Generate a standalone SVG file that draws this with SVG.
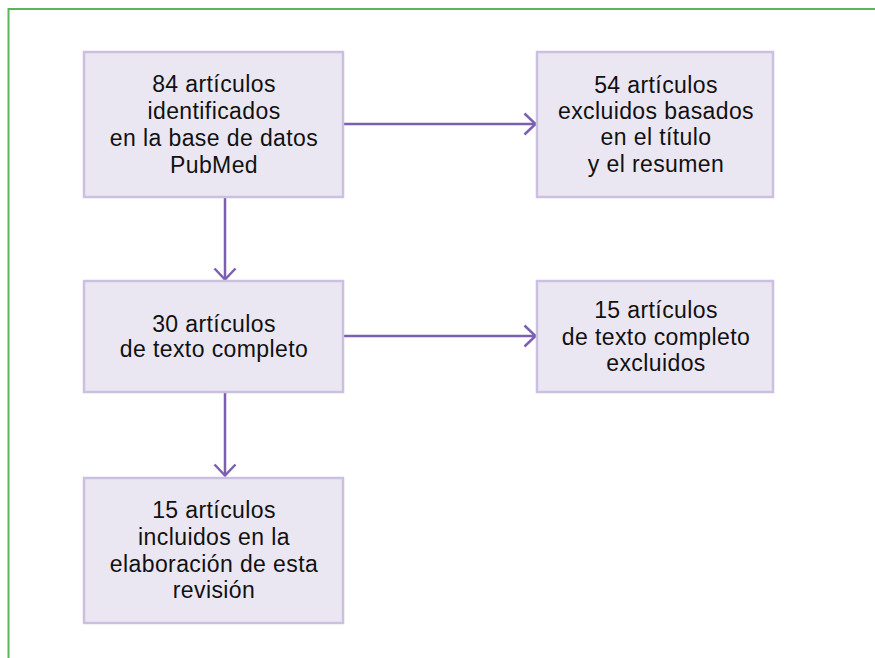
<svg xmlns="http://www.w3.org/2000/svg" width="875" height="658" viewBox="0 0 875 658">
<style>
.box{fill:#ebe7f2;stroke:#cbc0e0;stroke-width:2.5}
.t{font-family:"Liberation Sans",Arial,Helvetica,sans-serif;font-size:23px;letter-spacing:0.4px;fill:#111;text-anchor:middle}
.c{stroke:#7b5fb2;stroke-width:2.5;fill:none}
</style>
<defs>
<marker id="ah" markerUnits="userSpaceOnUse" markerWidth="16" markerHeight="26" viewBox="0 0 16 26" refX="13" refY="13" orient="auto">
<path d="M1.5,2.5 L12.5,13 L1.5,23.5" fill="none" stroke="#7b5fb2" stroke-width="2.5"/>
</marker>
</defs>
<rect x="8.5" y="9" width="900" height="700" fill="#fff" stroke="#5db55a" stroke-width="2"/>
<g id="connectors">
<line class="c" x1="343" y1="124" x2="536" y2="124" marker-end="url(#ah)"/>
<line class="c" x1="343" y1="336" x2="536" y2="336" marker-end="url(#ah)"/>
<line class="c" x1="225" y1="197" x2="225" y2="280" marker-end="url(#ah)"/>
<line class="c" x1="225" y1="392" x2="225" y2="476" marker-end="url(#ah)"/>
</g>
<g id="n1">
<rect class="box" x="84" y="52" width="259" height="145"/>
<text class="t" x="214" y="92">84 artículos</text>
<text class="t" x="214" y="119">identificados</text>
<text class="t" x="214" y="146">en la base de datos</text>
<text class="t" x="214" y="173">PubMed</text>
</g>
<g id="n2">
<rect class="box" x="537" y="52" width="236" height="145"/>
<text class="t" x="656" y="93">54 artículos</text>
<text class="t" x="656" y="119">excluidos basados</text>
<text class="t" x="656" y="145">en el título</text>
<text class="t" x="656" y="172">y el resumen</text>
</g>
<g id="n3">
<rect class="box" x="84" y="281" width="259" height="111"/>
<text class="t" x="214" y="332">30 artículos</text>
<text class="t" x="214" y="357">de texto completo</text>
</g>
<g id="n4">
<rect class="box" x="537" y="281" width="236" height="111"/>
<text class="t" x="656" y="318">15 artículos</text>
<text class="t" x="656" y="345">de texto completo</text>
<text class="t" x="656" y="371">excluidos</text>
</g>
<g id="n5">
<rect class="box" x="84" y="478" width="259" height="145"/>
<text class="t" x="214" y="518">15 artículos</text>
<text class="t" x="214" y="545">incluidos en la</text>
<text class="t" x="214" y="572">elaboración de esta</text>
<text class="t" x="214" y="598">revisión</text>
</g>
</svg>
